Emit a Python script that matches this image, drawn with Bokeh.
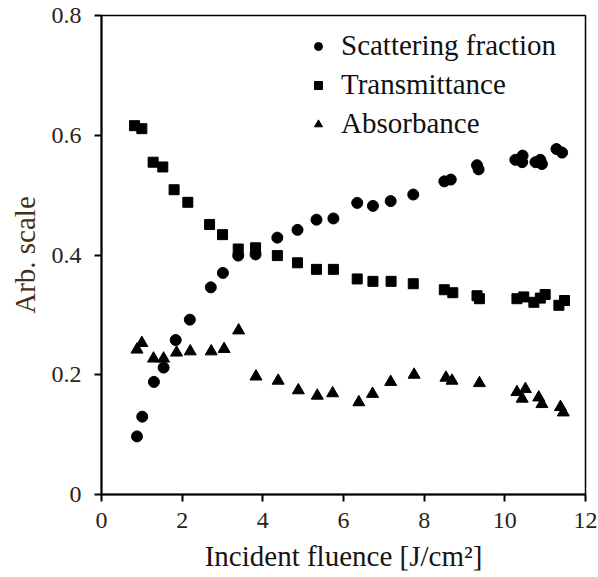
from bokeh.plotting import figure
from bokeh.models import ColumnDataSource, FixedTicker, Legend, LegendItem, Range1d
from bokeh.embed import file_html
from bokeh.resources import INLINE

# ---- data ----
scat_x = [0.88, 1.01, 1.30, 1.54, 1.84, 2.19, 2.71, 3.01, 3.39, 3.82, 4.36, 4.86, 5.33, 5.75,
          6.34, 6.73, 7.17, 7.73, 8.50, 8.66, 9.31, 9.35, 10.26, 10.44, 10.43, 10.76, 10.88,
          10.92, 11.28, 11.42]
scat_y = [0.097, 0.130, 0.188, 0.212, 0.258, 0.292, 0.346, 0.370, 0.399, 0.401, 0.429, 0.442,
          0.459, 0.461, 0.487, 0.482, 0.490, 0.501, 0.523, 0.526, 0.550, 0.543, 0.559, 0.566,
          0.555, 0.555, 0.559, 0.552, 0.577, 0.571]

trans_x = [0.82, 1.00, 1.28, 1.52, 1.80, 2.14, 2.68, 3.00, 3.39, 3.82, 4.36, 4.86, 5.33, 5.75,
           6.34, 6.73, 7.18, 7.73, 8.50, 8.71, 9.31, 9.37, 10.30, 10.47, 10.72, 10.88, 11.00,
           11.34, 11.48]
trans_y = [0.616, 0.611, 0.555, 0.547, 0.509, 0.488, 0.451, 0.434, 0.410, 0.412, 0.399, 0.387,
           0.376, 0.376, 0.360, 0.356, 0.356, 0.352, 0.342, 0.337, 0.332, 0.327, 0.327, 0.330,
           0.321, 0.328, 0.334, 0.316, 0.324]

abs_x = [0.88, 1.00, 1.29, 1.54, 1.86, 2.20, 2.72, 3.04, 3.40, 3.83, 4.38, 4.88, 5.35, 5.73,
         6.38, 6.72, 7.17, 7.75, 8.54, 8.69, 9.37, 10.30, 10.51, 10.43, 10.84, 10.92, 11.38,
         11.45]
abs_y = [0.242, 0.253, 0.227, 0.227, 0.237, 0.239, 0.239, 0.243, 0.274, 0.197, 0.190, 0.174,
         0.165, 0.169, 0.154, 0.168, 0.188, 0.200, 0.195, 0.190, 0.186, 0.171, 0.176, 0.160,
         0.162, 0.151, 0.146, 0.137]

series_names = ["Scattering fraction", "Transmittance", "Absorbance"]
x_ticks = [0, 2, 4, 6, 8, 10, 12]
x_tick_labels = ["0", "2", "4", "6", "8", "10", "12"]
y_ticks = [0, 0.2, 0.4, 0.6, 0.8]
y_tick_labels = ["0", "0.2", "0.4", "0.6", "0.8"]
x_title = "Incident fluence [J/cm\u00b2]"
y_title = "Arb. scale"

FONT = "'Liberation Serif', 'Times New Roman', serif"

p = figure(width=598, height=577, output_backend="svg", toolbar_location=None,
           x_range=Range1d(0, 12), y_range=Range1d(0, 0.8),
           min_border_left=101, min_border_right=13, min_border_top=15, min_border_bottom=83)
p.grid.visible = False
p.outline_line_color = "black"
p.outline_line_width = 1.5
p.background_fill_color = "white"
p.border_fill_color = "white"

s1 = ColumnDataSource(dict(x=scat_x, y=scat_y))
s2 = ColumnDataSource(dict(x=trans_x, y=trans_y))
s3 = ColumnDataSource(dict(x=abs_x, y=abs_y))

r1 = p.scatter("x", "y", source=s1, marker="circle", size=11, color="black")
r2 = p.scatter("x", "y", source=s2, marker="square", size=10, color="black")
r3 = p.scatter("x", "y", source=s3, marker="triangle", size=12, color="black")

for ax in (p.xaxis[0], p.yaxis[0]):
    ax.axis_line_width = 2
    ax.axis_line_color = "black"
    ax.major_tick_line_width = 2
    ax.major_tick_line_color = "black"
    ax.major_tick_in = 0
    ax.major_tick_out = 7
    ax.minor_tick_line_color = None
    ax.major_label_text_font = FONT
    ax.major_label_text_font_size = "24px"
    ax.major_label_text_color = "#2a2218"
    ax.axis_label_text_font = FONT
    ax.axis_label_text_font_style = "normal"
    ax.axis_label_text_font_size = "29px"

p.xaxis[0].ticker = FixedTicker(ticks=x_ticks)
p.xaxis[0].major_label_overrides = {t: l for t, l in zip(x_ticks, x_tick_labels)}
p.yaxis[0].ticker = FixedTicker(ticks=y_ticks)
p.yaxis[0].major_label_overrides = {t: l for t, l in zip(y_ticks, y_tick_labels)}
p.xaxis[0].axis_label = x_title
p.yaxis[0].axis_label = y_title
p.xaxis[0].axis_label_text_color = "#1a1410"
p.yaxis[0].axis_label_text_color = "#4a2e12"
p.xaxis[0].major_label_standoff = 11
p.yaxis[0].major_label_standoff = 13
p.xaxis[0].axis_label_standoff = 9
p.yaxis[0].axis_label_standoff = 8

legend = Legend(items=[LegendItem(label=series_names[0], renderers=[r1]),
                       LegendItem(label=series_names[1], renderers=[r2]),
                       LegendItem(label=series_names[2], renderers=[r3])],
                location=(207, 354), border_line_color=None, background_fill_alpha=0,
                label_text_font=FONT, label_text_font_size="29px", label_text_color="#111111",
                glyph_width=20, glyph_height=20, label_height=30, spacing=6, padding=5,
                label_standoff=13, margin=0)
p.add_layout(legend)

open("out.html", "w").write(file_html(p, INLINE))
